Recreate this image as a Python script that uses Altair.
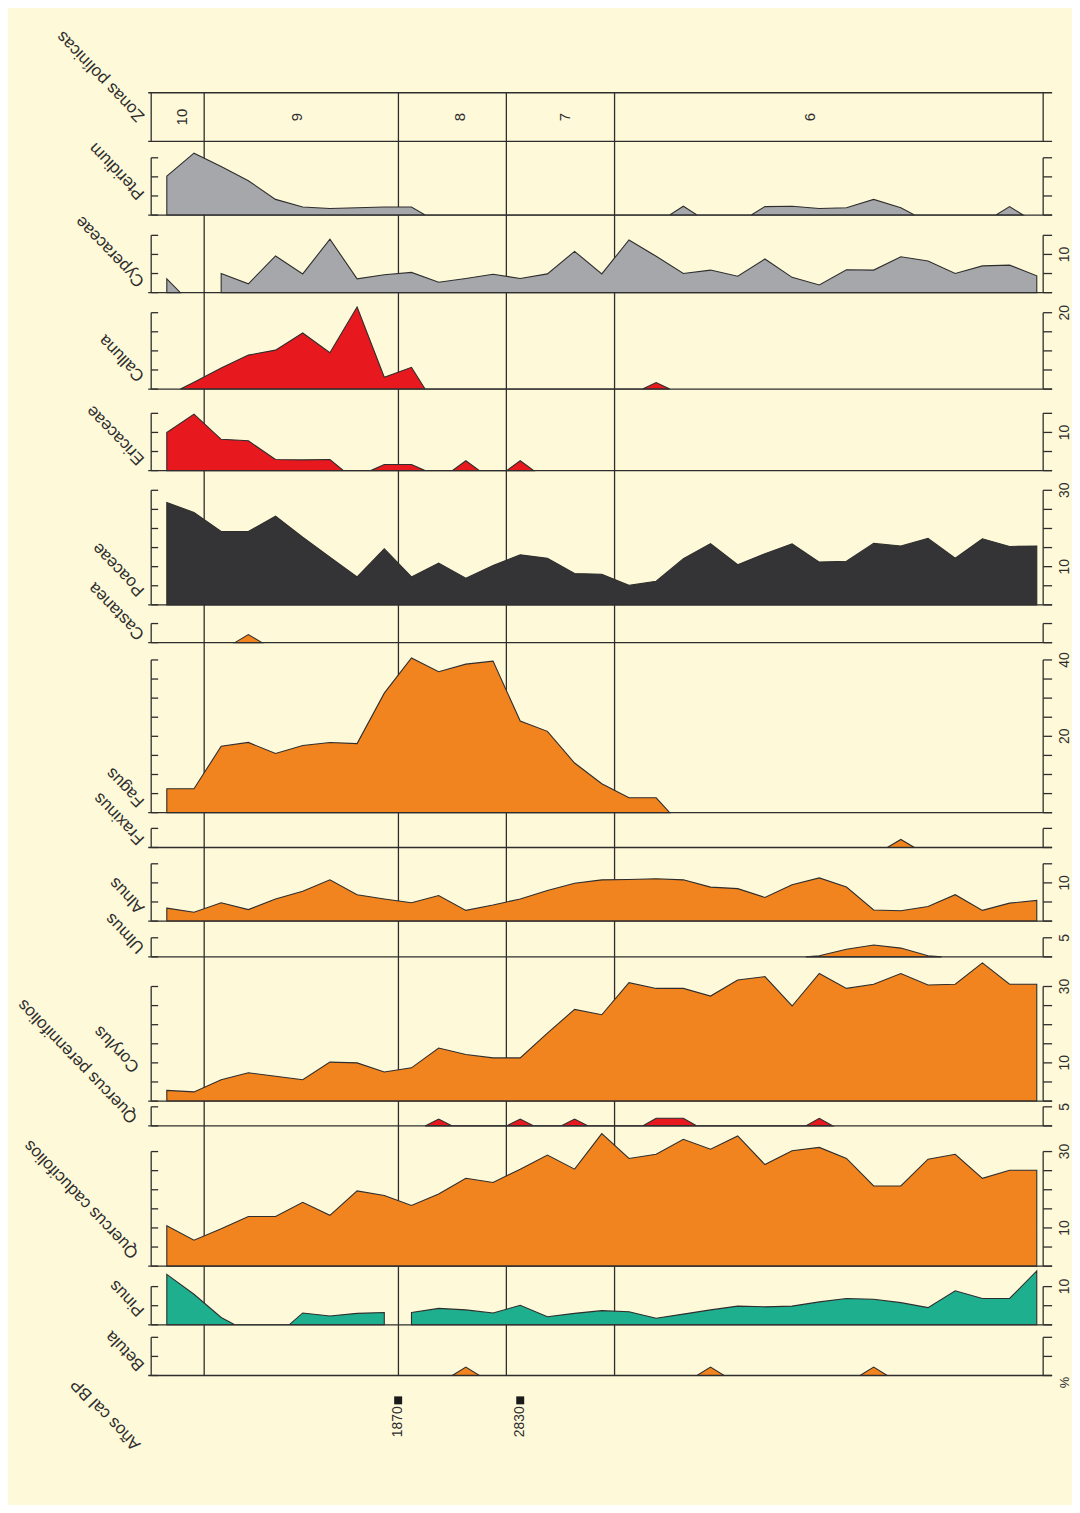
import altair as alt
import pandas as pd

# ---------------- data ----------------
SAMPLES = [0, 1, 2, 3, 4, 5, 6, 7, 8, 9, 10, 11, 12, 13, 14, 15, 16,
           17, 18, 19, 20, 21, 22, 23, 24, 25, 26, 27, 28, 29, 30, 31, 32]

ZONE_BOUNDS = [1.375, 8.52, 12.49, 16.47]
ZONE_NAMES = ["10", "9", "8", "7", "6"]
ZONE_LABEL_POS = [0.56, 4.80, 10.80, 14.64, 23.67]

DATES = ["1870", "2830"]
DATE_POS = [8.51, 13.0]

pteridium = [10.2, 16.2, 12.7, 9.0, 4.1, 2.1, 1.7, 1.9, 2.1, 2.1, 0, 0, 0, 0, 0, 0, 0,
             0, 0, 2.3, 0, 0, 2.2, 2.3, 1.7, 1.9, 4.1, 1.9, 0, 0, 0, 2.2, 0]
cyperaceae = [3.6, 0, 5.0, 2.3, 9.6, 4.9, 14.0, 3.6, 4.7, 5.3, 2.7, 3.7, 4.8, 3.7, 4.9, 10.8, 4.9,
              13.8, 9.5, 5.0, 5.9, 4.3, 8.8, 4.0, 2.0, 6.0, 5.9, 9.4, 8.3, 5.0, 7.0, 7.2, 4.4]
calluna = [0, 1.8, 5.5, 8.9, 10.2, 14.7, 9.5, 21.5, 3.1, 5.7, 0, 0, 0, 0, 0, 0, 0,
           0, 1.7, 0, 0, 0, 0, 0, 0, 0, 0, 0, 0, 0, 0, 0, 0]
ericaceae = [10.0, 14.8, 8.2, 7.8, 2.9, 2.8, 2.9, 0, 1.6, 1.6, 0, 2.6, 0, 2.6, 0, 0, 0,
             0, 0, 0, 0, 0, 0, 0, 0, 0, 0, 0, 0, 0, 0, 0, 0]
poaceae = [26.8, 24.2, 19.2, 19.2, 23.2, 17.7, 12.5, 7.3, 14.7, 7.3, 10.9, 7.0, 10.3, 13.1, 12.2, 8.2, 8.0,
           5.1, 6.2, 12.1, 16.0, 10.5, 13.4, 16.0, 11.2, 11.4, 16.1, 15.4, 17.4, 12.2, 17.3, 15.3, 15.4]
castanea = [0, 0, 0, 2.1, 0, 0, 0, 0, 0, 0, 0, 0, 0, 0, 0, 0, 0,
            0, 0, 0, 0, 0, 0, 0, 0, 0, 0, 0, 0, 0, 0, 0, 0]
fagus = [6.25, 6.25, 17.4, 18.4, 15.5, 17.6, 18.4, 18.1, 31.3, 40.5, 36.9, 38.9, 39.7, 24.0, 21.3, 13.0, 7.6,
         3.9, 3.9, 0, 0, 0, 0, 0, 0, 0, 0, 0, 0, 0, 0, 0, 0]
fraxinus = [0, 0, 0, 0, 0, 0, 0, 0, 0, 0, 0, 0, 0, 0, 0, 0, 0,
            0, 0, 0, 0, 0, 0, 0, 0, 0, 0, 2.1, 0, 0, 0, 0, 0]
alnus = [3.4, 2.3, 4.8, 3.0, 5.8, 7.8, 10.8, 6.9, 5.8, 4.8, 6.7, 2.8, 4.2, 5.8, 8.0, 9.9, 10.8,
         10.9, 11.1, 10.8, 8.9, 8.5, 6.2, 9.5, 11.3, 8.9, 2.9, 2.7, 3.8, 6.9, 2.8, 4.7, 5.4]
ulmus = [0, 0, 0, 0, 0, 0, 0, 0, 0, 0, 0, 0, 0, 0, 0, 0, 0,
         0, 0, 0, 0, 0, 0, 0, 0.3, 2.0, 3.1, 2.3, 0.3, 0, 0, 0, 0]
corylus = [2.8, 2.4, 5.6, 7.4, 6.5, 5.6, 10.2, 10.0, 7.6, 8.7, 13.9, 12.2, 11.3, 11.3, 17.8, 24.0, 22.6,
           31.0, 29.5, 29.5, 27.5, 31.7, 32.6, 24.9, 33.4, 29.5, 30.6, 33.4, 30.4, 30.6, 36.2, 30.6, 30.6]
quercus_per = [0, 0, 0, 0, 0, 0, 0, 0, 0, 0, 1.8, 0, 0, 1.8, 0, 1.8, 0,
               0, 2.0, 2.0, 0, 0, 0, 0, 2.0, 0, 0, 0, 0, 0, 0, 0, 0]
quercus_cad = [10.6, 6.8, 9.8, 13.0, 13.0, 16.7, 13.3, 19.7, 18.5, 15.9, 18.9, 23.0, 21.9, 25.4, 29.1, 25.4, 34.7,
               28.2, 29.3, 33.2, 30.6, 34.1, 26.6, 30.2, 31.1, 28.2, 21.0, 21.0, 28.0, 29.3, 23.0, 25.1, 25.1]
pinus = [13.2, 8.0, 1.9, 0, 0, 3.1, 2.3, 3.0, 3.2, 3.2, 4.3, 3.9, 3.1, 5.1, 2.1, 3.0, 3.7,
         3.4, 1.7, 2.8, 3.9, 4.9, 4.7, 4.9, 6.0, 6.9, 6.7, 5.8, 4.5, 8.9, 6.9, 6.9, 14.1]
betula = [0, 0, 0, 0, 0, 0, 0, 0, 0, 0, 0, 2.2, 0, 0, 0, 0, 0,
          0, 0, 0, 2.2, 0, 0, 0, 0, 0, 2.2, 0, 0, 0, 0, 0, 0]

# ---------------- style ----------------
YELLOW = "#FEF9D9"
LINE = "#2E2E2E"
GREY = "#A6A7AB"
RED = "#E8191E"
DARK = "#343436"
ORANGE = "#F2841F"
TEAL = "#1EAF8E"
FONT = "Liberation Sans"
PX_PER_PCT = 3.84
W = 897
XDOM = [-0.574, 32.235]
LABEL_ANGLE = 226
NAME_SIZE = 17

# name, values, colour, top tick, labelled ticks, strip height, breaks, label (dx, y)
TAXA = [
    ("Pteridium", pteridium, GREY, 15, [], 74, (), (-6, 52)),
    ("Cyperaceae", cyperaceae, GREY, 15, [10], 78, (1,), (-6, 66)),
    ("Calluna", calluna, RED, 20, [20], 97, (), (-6, 83)),
    ("Ericaceae", ericaceae, RED, 15, [10], 82, (), (-6, 70)),
    ("Poaceae", poaceae, DARK, 30, [10, 30], 135, (), (-6, 120)),
    ("Castanea", castanea, ORANGE, 5, [], 38, (), (-6, 29)),
    ("Fagus", fagus, ORANGE, 40, [20, 40], 171, (), (-6, 159)),
    ("Fraxinus", fraxinus, ORANGE, 5, [], 35, (), (-6, 26)),
    ("Alnus", alnus, ORANGE, 15, [10], 74, (), (-6, 60)),
    ("Ulmus", ulmus, ORANGE, 5, [5], 36, (), (-6, 26)),
    ("Corylus", corylus, ORANGE, 30, [10, 30], 145, (), (-11, 110)),
    ("Quercus perennifolios", quercus_per, RED, 5, [5], 25, (), (-13, 16)),
    ("Quercus caducifolios", quercus_cad, ORANGE, 30, [10, 30], 141, (), (-12, 127)),
    ("Pinus", pinus, TEAL, 10, [10], 59, (8,), (-6, 44)),
    ("Betula", betula, ORANGE, 10, [], 51, (), (-6, 40)),
]


def vertices(vals, breaks):
    segs, cur = [], []
    for i in range(len(vals)):
        cur.append(i)
        if i in breaks:
            segs.append(cur)
            cur = []
    if cur:
        segs.append(cur)
    rows = []
    for s, seg in enumerate(segs):
        for k, i in enumerate(seg):
            v = vals[i]
            x = SAMPLES[i]
            if v > 0:
                rows.append((x, v, s))
            else:
                if k > 0 and vals[seg[k - 1]] > 0:
                    rows.append(((SAMPLES[seg[k - 1]] + x) / 2, 0, s))
                if k < len(seg) - 1 and vals[seg[k + 1]] > 0:
                    rows.append(((x + SAMPLES[seg[k + 1]]) / 2, 0, s))
    return pd.DataFrame(rows, columns=["x", "v", "seg"])


def xenc():
    return alt.X("x:Q", scale=alt.Scale(domain=XDOM, nice=False, zero=False), axis=None)


zone_df = pd.DataFrame({"x": ZONE_BOUNDS})
one = pd.DataFrame({"a": [0]})


def zone_rules():
    return alt.Chart(zone_df).mark_rule(color=LINE, strokeWidth=1.3).encode(x=xenc())


def name_label(text, pos):
    dx, y = pos
    return alt.Chart(one).mark_text(
        text=text, angle=LABEL_ANGLE, align="left", baseline="alphabetic",
        font=FONT, fontSize=NAME_SIZE, color=LINE
    ).encode(x=alt.value(dx), y=alt.value(y))


def taxon_strip(name, vals, color, top, labels, h, breaks, pos):
    ymax = h / PX_PER_PCT
    ysc = alt.Scale(domain=[0, ymax], nice=False, zero=True)
    pts = vertices(vals, breaks)
    ticks = pd.DataFrame({"v": list(range(0, top + 1, 5))})
    labs = pd.DataFrame({"v": labels, "t": [str(l) for l in labels]})
    span = pd.DataFrame({"v": [0], "v2": [top]})

    area = alt.Chart(pts).mark_area(
        color=color, stroke=LINE, strokeWidth=1.1, interpolate="linear"
    ).encode(
        x=xenc(),
        y=alt.Y("v:Q", scale=ysc, stack=None, axis=None),
        detail="seg:N",
    )
    left_line = alt.Chart(span).mark_rule(color=LINE, strokeWidth=1.3).encode(
        x=alt.value(0), y=alt.Y("v:Q", scale=ysc, axis=None), y2="v2:Q")
    right_line = alt.Chart(span).mark_rule(color=LINE, strokeWidth=1.3).encode(
        x=alt.value(W), y=alt.Y("v:Q", scale=ysc, axis=None), y2="v2:Q")
    left_ticks = alt.Chart(ticks).mark_rule(color=LINE, strokeWidth=1.3).encode(
        x=alt.value(0), x2=alt.value(7), y=alt.Y("v:Q", scale=ysc, axis=None))
    right_ticks = alt.Chart(ticks).mark_rule(color=LINE, strokeWidth=1.3).encode(
        x=alt.value(W), x2=alt.value(W + 9), y=alt.Y("v:Q", scale=ysc, axis=None))
    base = alt.Chart(one).mark_rule(color=LINE, strokeWidth=1.3).encode(
        x=alt.value(-3), x2=alt.value(W + 9), y=alt.value(h))
    layers = [zone_rules(), area, left_line, right_line, left_ticks, right_ticks, base,
              name_label(name, pos)]
    if labels:
        tick_labels = alt.Chart(labs).mark_text(
            angle=270, align="center", baseline="top", font=FONT, fontSize=14, color=LINE
        ).encode(x=alt.value(W + 15), y=alt.Y("v:Q", scale=ysc, axis=None), text="t:N")
        layers.append(tick_labels)
    return alt.layer(*layers).properties(width=W, height=h)


def zone_strip(h=49):
    lab_df = pd.DataFrame({"x": ZONE_LABEL_POS, "t": ZONE_NAMES})
    labels = alt.Chart(lab_df).mark_text(
        angle=270, align="center", baseline="middle", font=FONT, fontSize=15, color=LINE
    ).encode(x=xenc(), y=alt.value(h / 2), text="t:N")
    top = alt.Chart(one).mark_rule(color=LINE, strokeWidth=1.3).encode(
        x=alt.value(-3), x2=alt.value(W + 9), y=alt.value(0))
    bot = alt.Chart(one).mark_rule(color=LINE, strokeWidth=1.3).encode(
        x=alt.value(-3), x2=alt.value(W + 9), y=alt.value(h))
    le = alt.Chart(one).mark_rule(color=LINE, strokeWidth=1.3).encode(
        x=alt.value(0), y=alt.value(0), y2=alt.value(h))
    re = alt.Chart(one).mark_rule(color=LINE, strokeWidth=1.3).encode(
        x=alt.value(W), y=alt.value(0), y2=alt.value(h))
    spacer = alt.Chart(one).mark_rule(color=YELLOW, strokeWidth=1).encode(
        x=alt.value(-143), x2=alt.value(W + 28), y=alt.value(-80))
    return alt.layer(
        spacer, zone_rules(), top, bot, le, re, labels,
        name_label("Zonas polínicas", (-6, 23))
    ).properties(width=W, height=h)


def bottom_strip(h=126):
    ddf = pd.DataFrame({"x": DATE_POS, "t": DATES})
    sq = alt.Chart(ddf).mark_square(size=64, color="#1A1A1A", opacity=1).encode(
        x=xenc(), y=alt.value(25))
    txt = alt.Chart(ddf).mark_text(
        angle=270, align="right", baseline="middle", font=FONT, fontSize=14, color=LINE
    ).encode(x=xenc(), y=alt.value(31), text="t:N")
    pct = alt.Chart(one).mark_text(
        text="%", angle=270, align="center", baseline="top", font=FONT, fontSize=13, color=LINE
    ).encode(x=alt.value(W + 16), y=alt.value(7))
    return alt.layer(sq, txt, pct, name_label("Años cal BP", (-10, 69))).properties(width=W, height=h)


strips = [zone_strip()] + [taxon_strip(*t) for t in TAXA] + [bottom_strip()]

chart = alt.vconcat(*strips, spacing=0, bounds="flush").properties(
    background=YELLOW, padding=0
).configure_view(stroke=None)

chart.save("out.html", embed_options={"renderer": "svg", "actions": False})
